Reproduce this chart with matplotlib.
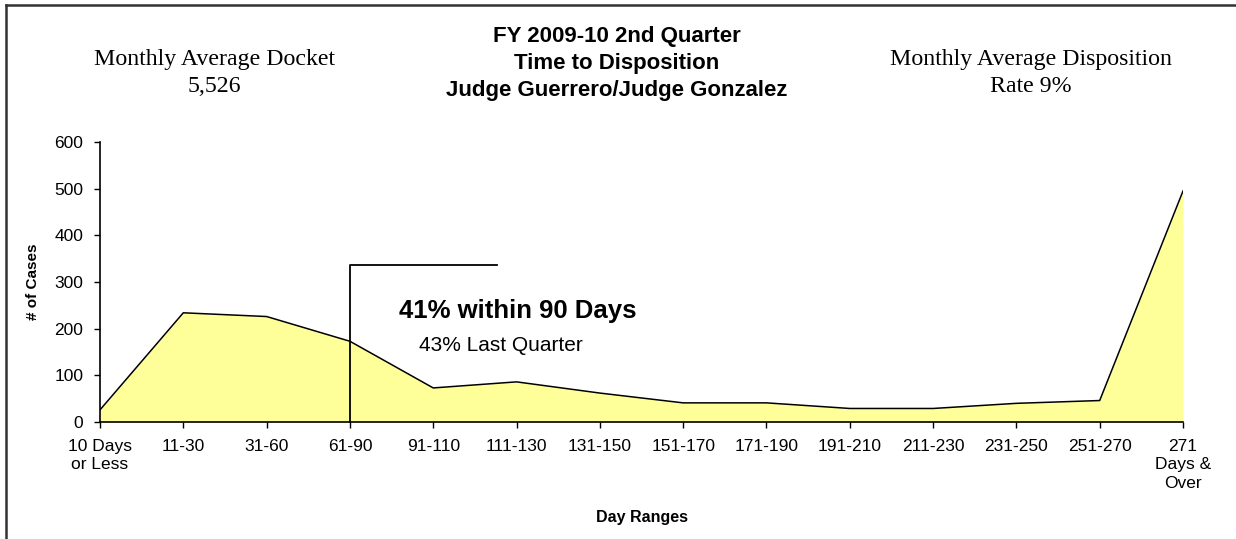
import matplotlib
matplotlib.use("Agg")
import matplotlib.pyplot as plt
from matplotlib.lines import Line2D

categories = ["10 Days\nor Less", "11-30", "31-60", "61-90", "91-110", "111-130",
              "131-150", "151-170", "171-190", "191-210", "211-230", "231-250",
              "251-270", "271\nDays &\nOver"]
cases = [26, 234, 226, 173, 73, 86, 62, 41, 41, 29, 29, 40, 46, 495]
yticks = [0, 100, 200, 300, 400, 500, 600]

title_lines = ["FY 2009-10 2nd Quarter", "Time to Disposition", "Judge Guerrero/Judge Gonzalez"]
left_note = ["Monthly Average Docket", "5,526"]
right_note = ["Monthly Average Disposition", "Rate 9%"]
anno_main = "41% within 90 Days"
anno_sub = "43% Last Quarter"
bracket_top = 337

W, H = 1236, 539
fig = plt.figure(figsize=(W / 100, H / 100), dpi=100)
sans = "Liberation Sans"
serif = "Liberation Serif"

ax = fig.add_axes([100 / W, 1 - 422 / H, (1183 - 100) / W, 280 / H])
x = list(range(len(categories)))
ax.fill_between(x, cases, 0, color="#FFFF99", linewidth=0)
ax.plot(x, cases, color="black", linewidth=1.1)
ax.set_xlim(0, len(categories) - 1)
ax.set_ylim(0, 600)
ax.set_xticks(x)
ax.set_xticklabels(categories, fontfamily=sans, fontsize=12.5, linespacing=1.3)
ax.set_yticks(yticks)
ax.set_yticklabels([str(v) for v in yticks], fontfamily=sans, fontsize=12.5)
for s in ["top", "right"]:
    ax.spines[s].set_visible(False)
for s in ["left", "bottom"]:
    ax.spines[s].set_linewidth(1.2)
ax.tick_params(axis="x", direction="out", length=4, width=1, pad=8)
ax.tick_params(axis="y", direction="out", length=4, width=1, pad=8)

ax.set_ylabel("# of Cases", fontfamily=sans, fontsize=11, fontweight="bold")
ax.yaxis.set_label_coords(-0.055, 0.5)
ax.set_xlabel("Day Ranges", fontfamily=sans, fontsize=11.5, fontweight="bold")
ax.xaxis.set_label_coords(0.5, -0.315)

# bracket annotation
ax.plot([3, 3, 4.76], [0, bracket_top, bracket_top], color="black", linewidth=1.3, clip_on=False)
ax.text(3.59, 238, anno_main, fontfamily=sans, fontsize=18.5, fontweight="bold", va="center", ha="left")
ax.text(3.83, 163, anno_sub, fontfamily=sans, fontsize=15, va="center", ha="left")

# titles
for line, y in zip(title_lines, [36, 63, 91]):
    fig.text(617 / W, 1 - y / H, line, fontfamily=sans, fontsize=16,
             fontweight="bold", ha="center", va="center")
for line, y in zip(left_note, [59, 87]):
    fig.text(214 / W, 1 - y / H, line, fontfamily=serif, fontsize=17.2, ha="center", va="center")
for line, y in zip(right_note, [59, 87]):
    fig.text(1031 / W, 1 - y / H, line, fontfamily=serif, fontsize=17.2, ha="center", va="center")

# chart frame
fig.add_artist(Line2D([5.5 / W, 5.5 / W], [0, 1 - 5 / H], transform=fig.transFigure, color="#333333", linewidth=1.8))
fig.add_artist(Line2D([5.5 / W, 1], [1 - 5 / H, 1 - 5 / H], transform=fig.transFigure, color="#333333", linewidth=1.8))

fig.savefig("out.png", dpi=100)
